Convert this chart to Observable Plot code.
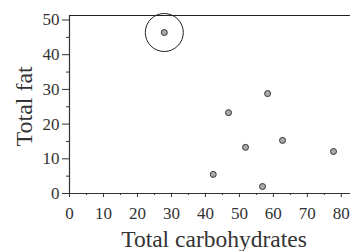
<!DOCTYPE html>
<html>
<head>
<meta charset="utf-8">
<script src="https://cdn.jsdelivr.net/npm/d3@7"></script>
<script src="https://cdn.jsdelivr.net/npm/@observablehq/plot@0.6"></script>
<style>
  html, body { margin: 0; padding: 0; background: #fff; }
  svg { display: block; }
</style>
</head>
<body>
<div id="chart"></div>
<script>
const carbs = [27.9, 58.3, 46.8, 42.3, 51.8, 56.8, 62.7, 77.7];
const fat = [46.4, 28.8, 23.3, 5.5, 13.3, 2.0, 15.3, 12.1];
const highlighted = [true, false, false, false, false, false, false, false];
const xTicks = [0, 10, 20, 30, 40, 50, 60, 70, 80];
const yTicks = [0, 10, 20, 30, 40, 50];
const xMinor = [5, 15, 25, 35, 45, 55, 65, 75];
const yMinor = [5, 15, 25, 35, 45];
const xDomain = [0, 82.7];
const yDomain = [0, 51.3];

const data = carbs.map((c, i) => ({carbs: c, fat: fat[i], hl: highlighted[i]}));
const font = "Liberation Serif";

const chart = Plot.plot({
  width: 350,
  height: 251,
  marginLeft: 69,
  marginRight: 0,
  marginTop: 15,
  marginBottom: 58,
  style: {fontFamily: font, color: "#333", background: "#fff"},
  x: {domain: xDomain},
  y: {domain: yDomain},
  marks: [
    Plot.axisX({ticks: xTicks, tickSize: 4, text: null, label: null, stroke: "#333"}),
    Plot.axisX({ticks: xMinor, tickSize: 2, text: null, label: null, stroke: "#333"}),
    Plot.axisY({ticks: yTicks, tickSize: 7, text: null, label: null, stroke: "#333"}),
    Plot.axisY({ticks: yMinor, tickSize: 3, text: null, label: null, stroke: "#333"}),
    Plot.text(xTicks, {x: d => d, text: d => String(d), frameAnchor: "bottom", dy: 20, lineAnchor: "middle", fontSize: 17, fontFamily: font, fill: "#333"}),
    Plot.text(yTicks, {y: d => d, text: d => String(d), frameAnchor: "left", dx: -10, textAnchor: "end", lineAnchor: "middle", fontSize: 17, fontFamily: font, fill: "#333"}),
    Plot.ruleY([0], {stroke: "#333", strokeWidth: 1.2}),
    Plot.ruleX([0], {stroke: "#333", strokeWidth: 1.2}),
    Plot.ruleY([yDomain[1]], {stroke: "#222", strokeWidth: 1.2}),
    Plot.dot(data.filter(d => d.hl), {x: "carbs", y: "fat", r: 19, stroke: "#222", fill: "none", strokeWidth: 1}),
    Plot.dot(data, {x: "carbs", y: "fat", r: 3, fill: "#aaa", stroke: "#333", strokeWidth: 1}),
    Plot.text(["Total carbohydrates"], {frameAnchor: "bottom", dy: 53, dx: 4, lineAnchor: "bottom", fontSize: 23.5, fontFamily: font, fill: "#333"}),
    Plot.text(["Total fat"], {frameAnchor: "left", dx: -45, dy: 42, rotate: -90, lineAnchor: "middle", fontSize: 24, fontFamily: font, fill: "#333"})
  ]
});
document.getElementById("chart").appendChild(chart);
</script>
</body>
</html>
